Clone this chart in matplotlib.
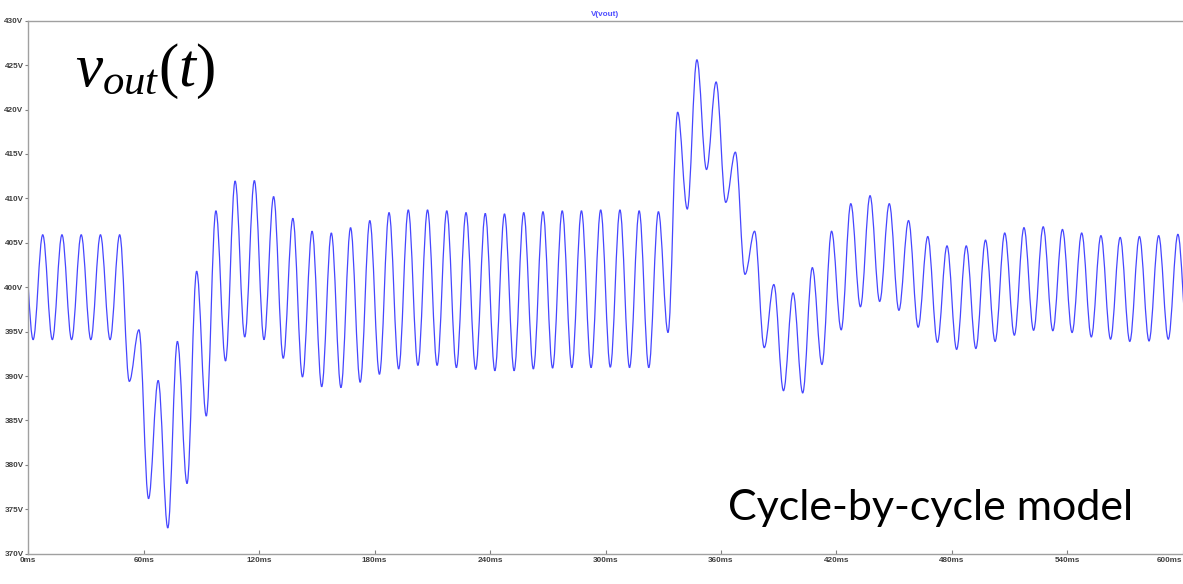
import numpy as np
import matplotlib
matplotlib.use("Agg")
import matplotlib.pyplot as plt
from matplotlib.path import Path
from matplotlib.patches import PathPatch

# ripple troughs / peaks of V(vout) per 10 ms cycle (V)
trough_v = [394.1, 394.1, 394.1, 394.1, 394.1, 389.4, 376.2, 372.9, 377.9, 385.5,
            391.7, 394.4, 394.1, 392.0, 389.9, 388.8, 388.7, 389.3, 390.2, 390.8,
            391.2, 391.2, 390.95, 390.75, 390.6, 390.6, 390.8, 390.9, 390.95, 390.95,
            391.0, 390.95, 390.95, 394.9, 408.8, 413.25, 409.55, 401.45, 393.2, 388.35,
            388.1, 391.3, 395.2, 397.8, 398.4, 397.4, 395.5, 393.8, 393.0, 393.1,
            393.9, 394.6, 395.15, 395.1, 394.9, 394.4, 394.15, 393.9, 393.95, 394.15]
peak_v = [405.9, 405.9, 405.9, 405.9, 405.9, 395.2, 389.5, 393.9, 401.8, 408.6,
          411.95, 412.0, 410.2, 407.75, 406.3, 406.1, 406.7, 407.5, 408.4, 408.7,
          408.7, 408.6, 408.4, 408.3, 408.25, 408.4, 408.5, 408.6, 408.6, 408.7,
          408.7, 408.6, 408.5, 419.7, 425.6, 423.1, 415.2, 406.3, 400.3, 399.35,
          402.2, 406.3, 409.4, 410.3, 409.4, 407.5, 405.7, 404.65, 404.65, 405.3,
          406.1, 406.7, 406.8, 406.5, 406.1, 405.8, 405.6, 405.7, 405.8, 405.95]
v_before = 405.9   # peak just before t = 0
v_after = 394.0    # trough just after t = 600 ms
period_ms = 10.0

x_ticks = [0, 60, 120, 180, 240, 300, 360, 420, 480, 540, 600]
y_ticks = [370, 375, 380, 385, 390, 395, 400, 405, 410, 415, 420, 425, 430]

# extrema sequence: trough at 2.5 ms, peak at 7.5 ms, ...
ext_v = [v_before]
for tr, pk in zip(trough_v, peak_v):
    ext_v += [tr, pk]
ext_v.append(v_after)
ext_t = [period_ms * (i - 1) / 2 + period_ms / 4 for i in range(len(ext_v))]

# smooth half-waves between extrema as cubic beziers (flat tangent at each extremum)
k = 0.363
verts = [(ext_t[0], ext_v[0])]
codes = [Path.MOVETO]
for i in range(1, len(ext_v)):
    t0, v0 = ext_t[i - 1], ext_v[i - 1]
    t1, v1 = ext_t[i], ext_v[i]
    dt = t1 - t0
    verts += [(t0 + k * dt, v0), (t1 - k * dt, v1), (t1, v1)]
    codes += [Path.CURVE4, Path.CURVE4, Path.CURVE4]

W, H = 1183, 584
fig = plt.figure(figsize=(W / 100, H / 100), dpi=100)
x0, x1 = 28.3, 1182.7
y_top, y_bot = 20.7, 553.7
ax = fig.add_axes([x0 / W, (H - y_bot) / H, (x1 - x0) / W, (y_bot - y_top) / H])

ax.add_patch(PathPatch(Path(verts, codes), fill=False, edgecolor="#4646ff", lw=0.9))

ax.set_xlim(0, 600)
ax.set_ylim(370, 430)
ax.set_xticks(x_ticks)
ax.set_xticklabels([f"{t}ms" for t in x_ticks])
ax.set_yticks(y_ticks)
ax.set_yticklabels([f"{v}V" for v in y_ticks])

for s in ["left", "top", "bottom"]:
    ax.spines[s].set_color("#a0a0a0")
    ax.spines[s].set_linewidth(1.0)
ax.spines["right"].set_visible(False)

tick_font = dict(family="Liberation Sans", weight="bold", size=5.9)
ax.tick_params(axis="y", direction="out", length=2.5, width=0.8, color="#808080",
               pad=1, labelcolor="#404040")
ax.tick_params(axis="x", direction="in", length=3, width=0.8, color="#808080",
               pad=2.5, labelcolor="#404040")
for lab in ax.get_xticklabels() + ax.get_yticklabels():
    lab.set_fontproperties(matplotlib.font_manager.FontProperties(**tick_font))
# last label sits on the right edge of the figure
ax.get_xticklabels()[-1].set_horizontalalignment("right")

fig.text((x0 + x1) / 2 / W, 1 - 14 / H, "V(vout)", ha="center", va="center",
         color="#4d4dff", **tick_font)

plt.rcParams["mathtext.fontset"] = "custom"
plt.rcParams["mathtext.rm"] = "Liberation Serif"
plt.rcParams["mathtext.it"] = "Liberation Serif:italic"
fig.text(75 / W, 1 - 86 / H, r"$v_{out}(t)$", fontsize=44, ha="left",
         va="baseline", color="black", family="Liberation Serif")

fig.text(728 / W, 1 - 520 / H, "Cycle-by-cycle model", fontsize=31,
         family="Lato", ha="left", va="baseline", color="black")

fig.savefig("out.png", dpi=100)
